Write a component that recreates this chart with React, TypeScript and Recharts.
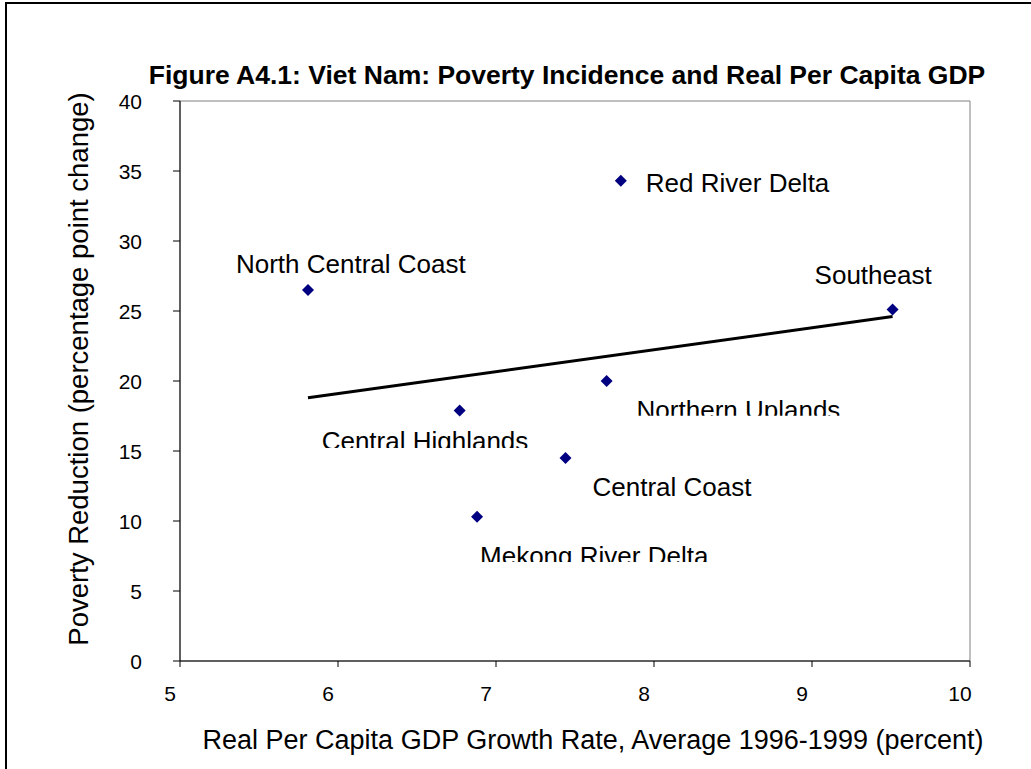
import React from 'react';
import {
  ComposedChart, Scatter, XAxis, YAxis, ReferenceArea, ReferenceLine,
} from 'recharts';

// Regions: growth rate (x) vs poverty reduction (y)
const regions = ['Red River Delta', 'North Central Coast', 'Southeast', 'Northern Uplands', 'Central Highlands', 'Central Coast', 'Mekong River Delta'];
const growthRate = [7.79, 5.81, 9.51, 7.70, 6.77, 7.44, 6.88];
const povertyReduction = [34.3, 26.5, 25.1, 20.0, 17.9, 14.5, 10.3];

// Trend line end points
const trendX = [5.81, 9.51];
const trendY = [18.8, 24.6];

const xTicks = [5, 6, 7, 8, 9, 10];
const yTicks = [0, 5, 10, 15, 20, 25, 30, 35, 40];

// Label placement relative to the marker: [dx, top of caps, clip height or 0]
const labelPlacement: Record<string, [number, number, number]> = {
  'Red River Delta': [25, -8, 0],
  'North Central Coast': [-72, -36, 0],
  'Southeast': [-78, -44, 0],
  'Northern Uplands': [30, 19, 15.7],
  'Central Highlands': [-138, 21, 16.6],
  'Central Coast': [27, 19.5, 0],
  'Mekong River Delta': [3, 29.5, 15.7],
};

const points = regions.map((name, i) => ({ name, x: growthRate[i], y: povertyReduction[i] }));

const FONT = 'Arial, "Liberation Sans", sans-serif';

const DiamondWithLabel = (props: any) => {
  const { cx, cy, payload, index } = props;
  const [dx, top, clip] = labelPlacement[payload.name] || [10, -9, 0];
  const r = 6;
  const clipId = `lbl-clip-${index}`;
  return (
    <g>
      <polygon
        points={`${cx},${cy - r} ${cx + r},${cy} ${cx},${cy + r} ${cx - r},${cy}`}
        fill="#000080"
      />
      {clip > 0 && (
        <defs>
          <clipPath id={clipId}>
            <rect x={cx + dx - 5} y={cy + top - 10} width={400} height={clip + 10} />
          </clipPath>
        </defs>
      )}
      <text
        x={cx + dx}
        y={cy + top + 18.8}
        fontSize={26}
        fontFamily={FONT}
        fill="#000"
        clipPath={clip > 0 ? `url(#${clipId})` : undefined}
      >
        {payload.name}
      </text>
    </g>
  );
};

const XTick = (props: any) => {
  const { x, y, payload } = props;
  return (
    <text x={x - 10} y={y + 25} dy="0.35em" textAnchor="middle" fontSize={21} fontFamily={FONT} fill="#000">
      {payload.value}
    </text>
  );
};

const YTick = (props: any) => {
  const { x, y, payload } = props;
  return (
    <text x={x - 29} y={y + 1} dy="0.35em" textAnchor="end" fontSize={21} fontFamily={FONT} fill="#000">
      {payload.value}
    </text>
  );
};

const App: React.FC = () => {
  return (
    <div style={{ position: 'absolute', left: 0, top: 0, width: 1031, height: 769, overflow: 'hidden', background: '#fff' }}>
      {/* outer frame */}
      <div style={{ position: 'absolute', left: 5, top: 2, width: 1100, height: 900, border: '2px solid #000' }} />
      <div style={{
        position: 'absolute', left: 567 - 500, width: 1000, top: 59, textAlign: 'center', whiteSpace: 'nowrap',
        fontFamily: FONT, fontWeight: 'bold', fontSize: 26.5, lineHeight: '32px', color: '#000',
      }}>
        Figure A4.1: Viet Nam: Poverty Incidence and Real Per Capita GDP
      </div>
      <div style={{ position: 'absolute', left: 0, top: 0 }}>
        <ComposedChart
          width={1031}
          height={769}
          data={points}
          margin={{ top: 101, right: 61, bottom: 78, left: 120 }}
        >
          <ReferenceArea x1={5} x2={10} y1={0} y2={40} fill="none" stroke="#808080" strokeWidth={1} ifOverflow="visible" />
          <XAxis
            type="number"
            dataKey="x"
            domain={[5, 10]}
            ticks={xTicks}
            height={30}
            stroke="#000"
            tickSize={6}
            tick={<XTick />}
          />
          <YAxis
            type="number"
            dataKey="y"
            domain={[0, 40]}
            ticks={yTicks}
            width={60}
            stroke="#000"
            tickSize={7}
            tick={<YTick />}
          />
          <ReferenceLine
            segment={[{ x: trendX[0], y: trendY[0] }, { x: trendX[1], y: trendY[1] }]}
            stroke="#000"
            strokeWidth={3}
          />
          <Scatter dataKey="y" shape={<DiamondWithLabel />} isAnimationActive={false} />
        </ComposedChart>
      </div>
      <div style={{
        position: 'absolute', left: 593 - 500, width: 1000, top: 724, textAlign: 'center', whiteSpace: 'nowrap',
        fontFamily: FONT, fontSize: 27, lineHeight: '32px', color: '#000',
      }}>
        Real Per Capita GDP Growth Rate, Average 1996-1999 (percent)
      </div>
      <div style={{
        position: 'absolute', left: 79, top: 369, transform: 'translate(-50%, -50%) rotate(-90deg)',
        whiteSpace: 'nowrap', fontFamily: FONT, fontSize: 27.5, lineHeight: '32px', color: '#000',
      }}>
        Poverty Reduction (percentage point change)
      </div>
    </div>
  );
};

export default App;
